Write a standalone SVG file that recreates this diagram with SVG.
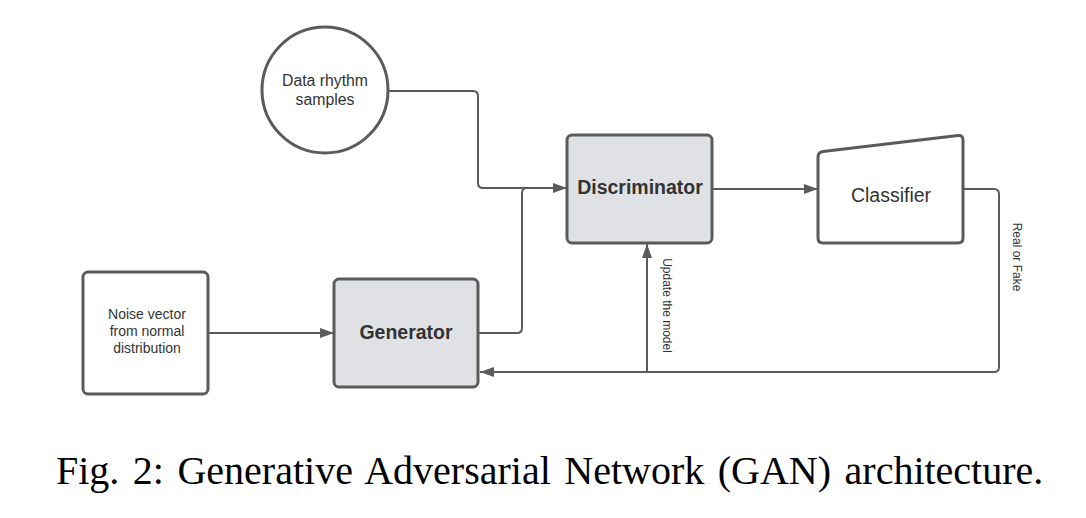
<svg xmlns="http://www.w3.org/2000/svg" width="1086" height="518" viewBox="0 0 1086 518">
<defs>
<style>
.box{fill:#ffffff;stroke:#5b5b5b;stroke-width:3}
.gbox{fill:#dfe1e5;stroke:#5b5b5b;stroke-width:3}
.conn{fill:none;stroke:#5b5b5b;stroke-width:2}
.t{font-family:"Liberation Sans",Arial,sans-serif;fill:#333333;text-anchor:middle}
.b{font-weight:bold}
.cap{font-family:"Liberation Serif","Times New Roman",serif;font-size:40px;fill:#000000}
</style>
<marker id="arr" markerUnits="userSpaceOnUse" markerWidth="16" markerHeight="12" refX="14" refY="5" orient="auto" viewBox="0 0 16 12">
<path d="M0,0 L14,5 L0,10 Z" fill="#5b5b5b"/>
</marker>
</defs>
<rect width="1086" height="518" fill="#ffffff"/>
<g id="connectors">
<path class="conn" d="M388,91 H473 Q478,91 478,96 V183 Q478,188 483,188 H567" marker-end="url(#arr)"/>
<path class="conn" d="M478,333 H517 Q522,333 522,328 V193 Q522,188 527,188"/>
<path class="conn" d="M208,333 H334" marker-end="url(#arr)"/>
<path class="conn" d="M712,189 H818" marker-end="url(#arr)"/>
<path class="conn" d="M963,189 H994 Q999,189 999,194 V367 Q999,372 994,372 H480" marker-end="url(#arr)"/>
<path class="conn" d="M647,372 V244" marker-end="url(#arr)"/>
<text class="t" font-size="12" transform="translate(1017,257) rotate(90)" dominant-baseline="central">Real or Fake</text>
<text class="t" font-size="12" transform="translate(667,305.5) rotate(90)" dominant-baseline="central">Update the model</text>
</g>
<g id="data-samples">
<circle class="box" cx="325" cy="90" r="63"/>
<text class="t" font-size="15.8" x="325" y="85.5">Data rhythm</text>
<text class="t" font-size="15.8" x="325" y="104.5">samples</text>
</g>
<g id="discriminator">
<rect class="gbox" x="567" y="135" width="145" height="108" rx="5"/>
<text class="t b" font-size="19.5" x="640" y="194">Discriminator</text>
</g>
<g id="classifier">
<path class="box" d="M823,151.4 L958,135.6 Q963,135 963,140 V238 Q963,243 958,243 H823 Q818,243 818,238 V157 Q818,152 823,151.4 Z"/>
<text class="t" font-size="19.5" x="891" y="202">Classifier</text>
</g>
<g id="noise">
<rect class="box" x="83" y="272" width="125" height="122" rx="5"/>
<text class="t" font-size="14" x="147" y="319">Noise vector</text>
<text class="t" font-size="14" x="147" y="336">from normal</text>
<text class="t" font-size="14" x="147" y="353">distribution</text>
</g>
<g id="generator">
<rect class="gbox" x="334" y="279" width="144" height="108" rx="5"/>
<text class="t b" font-size="19.5" x="406" y="339">Generator</text>
</g>
<text class="cap" x="56" y="484" word-spacing="3.5">Fig. 2: Generative Adversarial Network (GAN) architecture.</text>
</svg>
